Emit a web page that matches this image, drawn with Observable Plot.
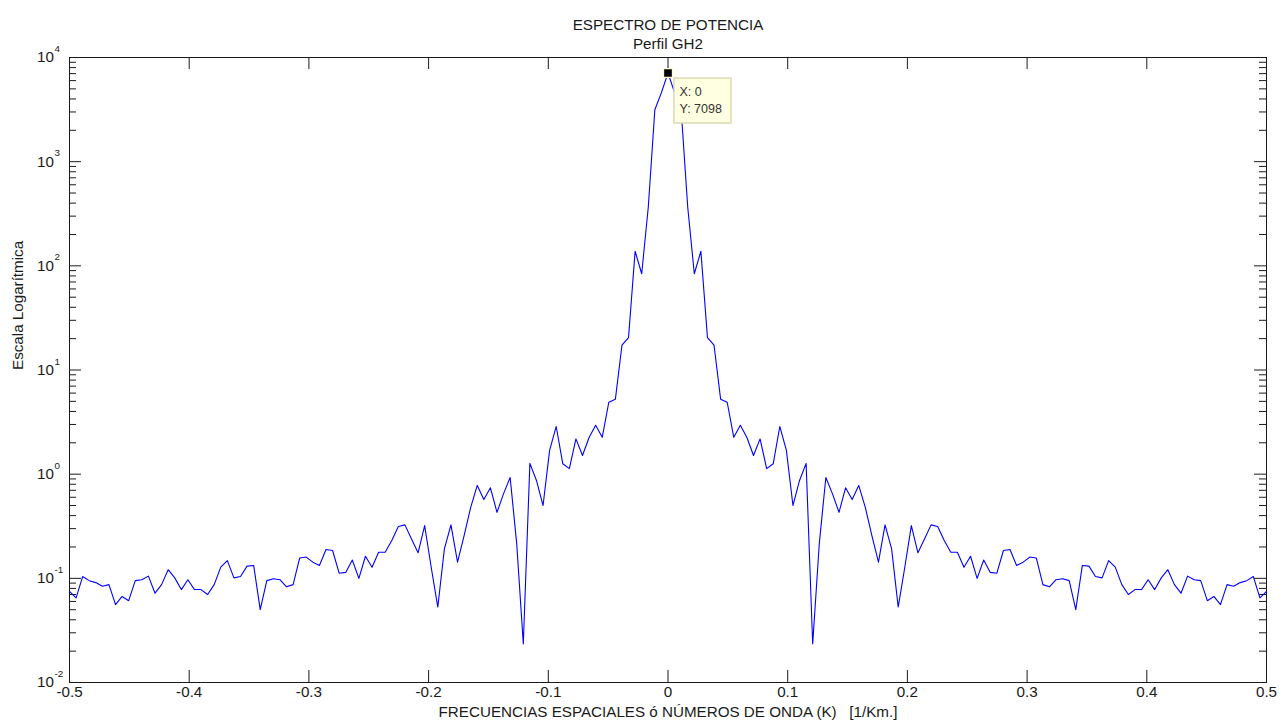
<!DOCTYPE html>
<html>
<head>
<meta charset="utf-8">
<script src="https://cdn.jsdelivr.net/npm/d3@7"></script>
<script src="https://cdn.jsdelivr.net/npm/@observablehq/plot@0.6"></script>
<style>
  html, body { margin: 0; padding: 0; background: #fff; }
  #chart svg { display: block; }
</style>
</head>
<body>
<div id="chart"></div>
<script>
// ---- Data ----
const title = "ESPECTRO DE POTENCIA";
const subtitle = "Perfil GH2";
const xLabel = "FRECUENCIAS ESPACIALES ó NÚMEROS DE ONDA (K)   [1/Km.]";
const yLabel = "Escala Logarítmica";

// sample index (frequency = index / samples)
const samples = 182;
const sampleIndex = d3.range(-91, 92);

// power spectrum values, from K = -0.5 to K = 0.5
const power = [
  0.075, 0.065, 0.104, 0.095, 0.091, 0.084, 0.087, 0.056, 0.067, 0.061,
  0.095, 0.097, 0.105, 0.072, 0.087, 0.121, 0.101, 0.078, 0.097, 0.078,
  0.078, 0.070, 0.087, 0.128, 0.148, 0.101, 0.104, 0.131, 0.133, 0.050,
  0.095, 0.099, 0.097, 0.083, 0.087, 0.157, 0.160, 0.143, 0.133, 0.189,
  0.185, 0.112, 0.114, 0.150, 0.100, 0.163, 0.128, 0.178, 0.178, 0.231,
  0.314, 0.326, 0.239, 0.176, 0.321, 0.127, 0.053, 0.192, 0.326, 0.143,
  0.257, 0.48, 0.78, 0.57, 0.74, 0.43, 0.65, 0.93, 0.214, 0.0235,
  1.27, 0.87, 0.50, 1.69, 2.87, 1.26, 1.13, 2.18, 1.51, 2.25,
  2.95, 2.26, 4.9, 5.25, 17.3, 20.5, 138, 84, 365, 3150,
  4600, 7098,
  4600, 3150, 365, 84, 138, 20.5, 17.3, 5.25, 4.9, 2.26,
  2.95, 2.25, 1.51, 2.18, 1.13, 1.26, 2.87, 1.69, 0.50, 0.87,
  1.27, 0.0235, 0.214, 0.93, 0.65, 0.43, 0.74, 0.57, 0.78, 0.48,
  0.257, 0.143, 0.326, 0.192, 0.053, 0.127, 0.321, 0.176, 0.239, 0.326,
  0.314, 0.231, 0.178, 0.178, 0.128, 0.163, 0.100, 0.150, 0.114, 0.112,
  0.185, 0.189, 0.133, 0.143, 0.160, 0.157, 0.087, 0.083, 0.097, 0.099,
  0.095, 0.050, 0.133, 0.131, 0.104, 0.101, 0.148, 0.128, 0.087, 0.070,
  0.078, 0.078, 0.097, 0.078, 0.101, 0.121, 0.087, 0.072, 0.105, 0.097,
  0.095, 0.061, 0.067, 0.056, 0.087, 0.084, 0.091, 0.095, 0.104, 0.065,
  0.075
];

const xTicks = [-0.5, -0.4, -0.3, -0.2, -0.1, 0, 0.1, 0.2, 0.3, 0.4, 0.5];
const xTickLabels = ["-0.5", "-0.4", "-0.3", "-0.2", "-0.1", "0", "0.1", "0.2", "0.3", "0.4", "0.5"];
const yExponents = [-2, -1, 0, 1, 2, 3, 4];
const minorMultipliers = [2, 3, 4, 5, 6, 7, 8, 9];

// data tip
const tipX = 0;
const tipY = 7098;
const tipLines = ["X: 0", "Y: 7098"];

// ---- Build ----
const rows = sampleIndex.map((i, j) => ({k: i / samples, p: power[j]}));
const yMajor = yExponents.map(e => Math.pow(10, e));
const yMinor = [];
for (const e of yExponents.slice(0, -1)) for (const m of minorMultipliers) yMinor.push(m * Math.pow(10, e));

const W = 1284, H = 725;
const mL = 69, mR = 18, mT = 57, mB = 43;
const fW = W - mL - mR, fH = H - mT - mB;
const font = "'Liberation Sans', Arial, Helvetica, sans-serif";
const ink = "#1a1a1a";
const fs = 15.2;

const plot = Plot.plot({
  width: W, height: H,
  marginLeft: mL, marginRight: mR, marginTop: mT, marginBottom: mB,
  style: {fontFamily: font, fontSize: fs + "px", color: ink, background: "#fff"},
  x: {type: "linear", domain: [-0.5, 0.5], axis: null},
  y: {type: "log", domain: [0.01, 10000], axis: null},
  marks: [
    // inward ticks (MATLAB style)
    Plot.tickX(xTicks, {x: d => d, insetTop: fH - 12, stroke: ink}),
    Plot.tickX(xTicks, {x: d => d, insetBottom: fH - 12, stroke: ink}),
    Plot.tickY(yMajor, {y: d => d, insetRight: fW - 12, stroke: ink}),
    Plot.tickY(yMajor, {y: d => d, insetLeft: fW - 12, stroke: ink}),
    Plot.tickY(yMinor, {y: d => d, insetRight: fW - 7, stroke: ink}),
    Plot.tickY(yMinor, {y: d => d, insetLeft: fW - 7, stroke: ink}),
    Plot.frame({stroke: ink}),
    // the spectrum
    Plot.line(rows, {x: "k", y: "p", stroke: "#0000ff", strokeWidth: 1.1}),
    // data tip marker
    Plot.dot([{k: tipX, p: tipY}], {x: "k", y: "p", symbol: "square", r: 5, fill: "#000", stroke: "#fffbd0", strokeWidth: 1.2}),
    // x tick labels
    Plot.text(xTicks, {x: d => d, frameAnchor: "bottom", dy: 14, text: (d, i) => xTickLabels[i], fill: ink, fontSize: fs}),
    // y tick labels: "10" + exponent
    Plot.text(yMajor, {y: d => d, frameAnchor: "left", dx: -15.5, textAnchor: "end", text: () => "10", fill: ink, fontSize: fs}),
    Plot.text(yMajor, {y: d => d, frameAnchor: "left", dx: -15, dy: -8.5, textAnchor: "start", text: (d, i) => String(yExponents[i]), fill: ink, fontSize: 9.8}),
    // titles and axis labels
    Plot.text([title], {frameAnchor: "top", dy: -38, text: d => d, fill: ink, fontSize: fs}),
    Plot.text([subtitle], {frameAnchor: "top", dy: -19.5, text: d => d, fill: ink, fontSize: fs}),
    Plot.text([xLabel], {frameAnchor: "bottom", dy: 34, text: d => d, fill: ink, fontSize: fs}),
    Plot.text([yLabel], {frameAnchor: "left", dx: -51, rotate: -90, text: d => d, fill: ink, fontSize: fs})
  ]
});

// keep repeated spaces in the x label
d3.select(plot).selectAll("text").attr("xml:space", "preserve").style("white-space", "pre");

// data tip box, positioned through Plot's own scales
const sx = plot.scale("x"), sy = plot.scale("y");
const px = sx.apply(tipX), py = sy.apply(tipY);
const g = d3.select(plot).append("g")
  .attr("font-family", font).attr("font-size", 12.5).attr("text-anchor", "start");
g.append("rect")
  .attr("x", px + 6.5).attr("y", py + 5.5)
  .attr("width", 57).attr("height", 45)
  .attr("fill", "#ffffe1").attr("stroke", "#dcd9b4").attr("stroke-width", 1.5);
tipLines.forEach((t, i) => {
  g.append("text").attr("x", px + 12).attr("y", py + 23 + i * 17.5)
    .attr("text-anchor", "start").attr("fill", "#333").text(t);
});

document.getElementById("chart").appendChild(plot);
</script>
</body>
</html>
